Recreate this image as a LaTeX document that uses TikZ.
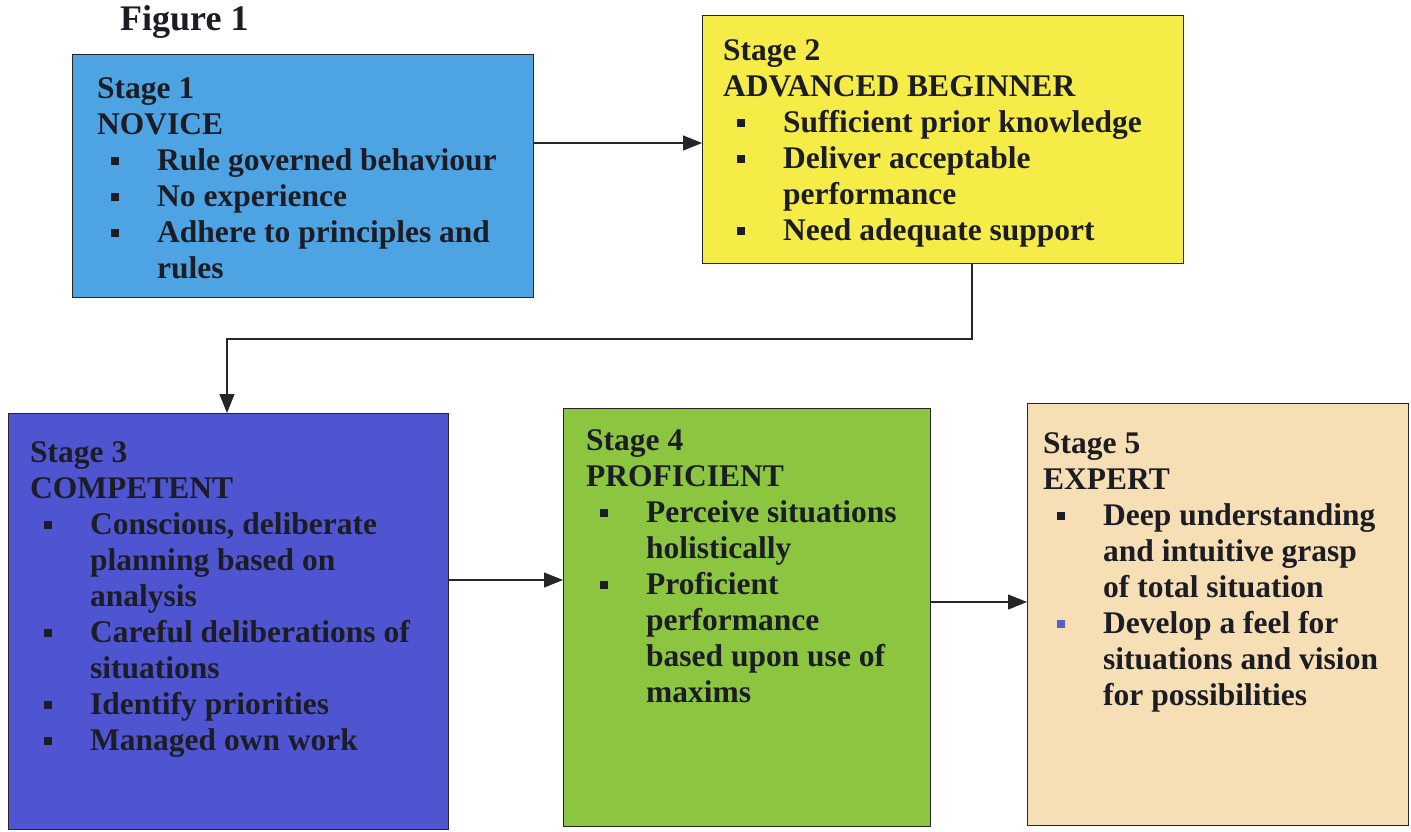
\documentclass[tikz,border=0pt]{standalone}
\usepackage{fontspec}
\setmainfont{Liberation Serif}
\usetikzlibrary{arrows.meta}
\definecolor{cA}{HTML}{4EA3E3}
\definecolor{cB}{HTML}{F6EC48}
\definecolor{cC}{HTML}{4F55D0}
\definecolor{cD}{HTML}{8CC540}
\definecolor{cE}{HTML}{F6DFB4}
\definecolor{ink}{HTML}{1C1C24}
\definecolor{bulblue}{HTML}{5A5AC8}
\newcommand{\bsq}[1][ink]{\makebox[60pt][l]{\hspace{14pt}\textcolor{#1}{\rule[5.5pt]{7.5pt}{7.5pt}}}}
\newcommand{\bind}{\hspace*{60pt}}
\tikzset{
  box/.style={draw=black!85, line width=1.3pt, anchor=north west, inner sep=0pt},
  txt/.style={anchor=north west, inner sep=0pt, align=left, text=ink,
    font=\fontsize{31.5}{36}\selectfont\bfseries},
  arr/.style={draw=black!85, line width=1.2pt, -{Triangle[length=19pt,width=15pt]}},
}
\begin{document}
\begin{tikzpicture}[x=1pt,y=-1pt]
\useasboundingbox[fill=white] (0,0) rectangle (1411,831);

\node[anchor=base west, inner sep=0pt, text=ink, font=\fontsize{36}{40}\selectfont\bfseries] (fig) at (120,30) {Figure 1};

% boxes
\node[box, fill=cA, minimum width=461pt, minimum height=243pt] (s1) at (72,54) {};
\node[box, fill=cB, minimum width=481pt, minimum height=248pt] (s2) at (702,15) {};
\node[box, fill=cC, minimum width=440pt, minimum height=416pt] (s3) at (8,413) {};
\node[box, fill=cD, minimum width=367pt, minimum height=418pt] (s4) at (563,408) {};
\node[box, fill=cE, minimum width=381pt, minimum height=422pt] (s5) at (1027,403) {};

% texts
\node[txt] (s1t) at (97,72.8) {\strut Stage 1\\NOVICE\\
\bsq Rule governed behaviour\\
\bsq No experience\\
\bsq Adhere to principles and\\
\bind rules};

\node[txt] (s2t) at (723,34.8) {\strut Stage 2\\ADVANCED BEGINNER\\
\bsq Sufficient prior knowledge\\
\bsq Deliver acceptable\\
\bind performance\\
\bsq Need adequate support};

\node[txt] (s3t) at (30,436.8) {\strut Stage 3\\COMPETENT\\
\bsq Conscious, deliberate\\
\bind planning based on\\
\bind analysis\\
\bsq Careful deliberations of\\
\bind situations\\
\bsq Identify priorities\\
\bsq Managed own work};

\node[txt] (s4t) at (586,424.8) {\strut Stage 4\\PROFICIENT\\
\bsq Perceive situations\\
\bind holistically\\
\bsq Proficient\\
\bind performance\\
\bind based upon use of\\
\bind maxims};

\node[txt] (s5t) at (1043,427.8) {\strut Stage 5\\EXPERT\\
\bsq Deep understanding\\
\bind and intuitive grasp\\
\bind of total situation\\
\bsq[bulblue]Develop a feel for\\
\bind situations and vision\\
\bind for possibilities};

% connectors
\coordinate (a1) at (0,143);
\coordinate (k1) at (972,339);
\coordinate (k2) at (227,339);
\coordinate (a3) at (0,580);
\coordinate (a4) at (0,602);
\draw[arr] (s1.east |- a1) -- (s2.west |- a1);
\draw[arr] (s2.south -| k1) -- (k1) -- (k2) -- (s3.north -| k2);
\draw[arr] (s3.east |- a3) -- (s4.west |- a3);
\draw[arr] (s4.east |- a4) -- (s5.west |- a4);
\end{tikzpicture}
\end{document}
